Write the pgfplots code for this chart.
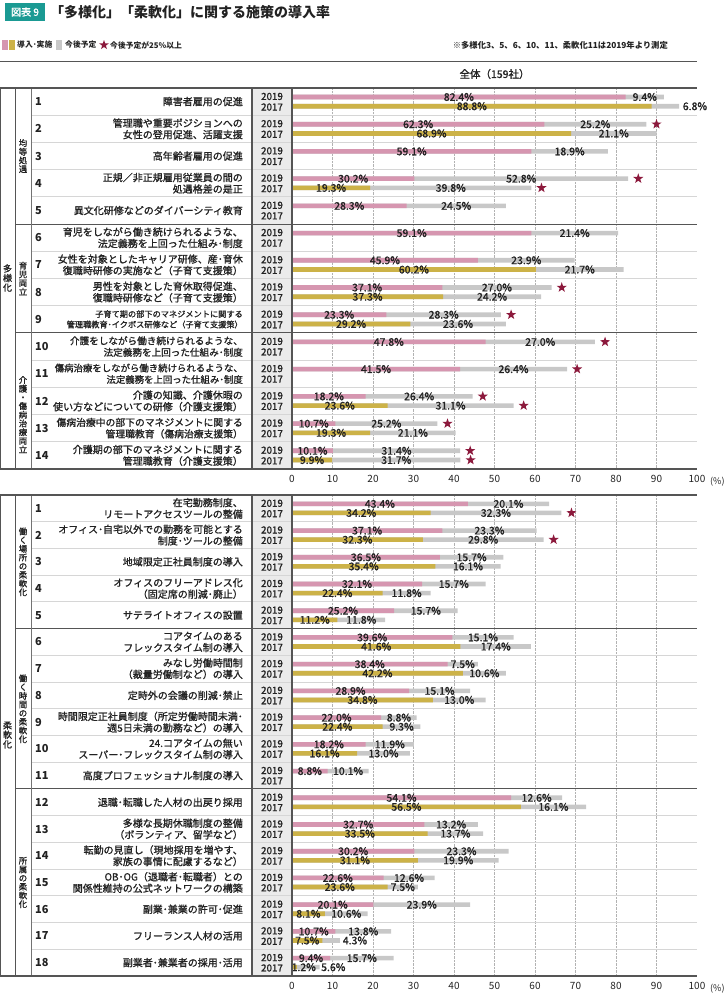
\documentclass[border=0pt]{standalone}
\usepackage{fontspec}
\setmainfont{Noto Sans CJK JP}
\newfontfamily\med{Noto Sans CJK JP}[FakeBold=1.2]
\usepackage{pgfplots}
\pgfplotsset{compat=1.18}
\usepackage{pgfplotstable}
\usetikzlibrary{shapes.geometric}

\definecolor{cpink}{HTML}{D696B0}
\definecolor{cgold}{HTML}{CCB248}
\definecolor{cgray}{HTML}{C8C8C8}
\definecolor{cstar}{HTML}{8C193C}
\definecolor{cteal}{HTML}{1A9A93}
\definecolor{crule}{HTML}{555555}
\definecolor{csep}{HTML}{D6D6D6}
\definecolor{cyear}{HTML}{EBEBEB}
\definecolor{ctxt}{HTML}{222222}

\pgfdeclareplotmark{fstar}{%
 \pgfpathmoveto{\pgfpointpolar{90}{\pgfplotmarksize}}%
 \pgfpathlineto{\pgfpointpolar{126}{0.4\pgfplotmarksize}}%
 \pgfpathlineto{\pgfpointpolar{162}{\pgfplotmarksize}}%
 \pgfpathlineto{\pgfpointpolar{198}{0.4\pgfplotmarksize}}%
 \pgfpathlineto{\pgfpointpolar{234}{\pgfplotmarksize}}%
 \pgfpathlineto{\pgfpointpolar{270}{0.4\pgfplotmarksize}}%
 \pgfpathlineto{\pgfpointpolar{306}{\pgfplotmarksize}}%
 \pgfpathlineto{\pgfpointpolar{342}{0.4\pgfplotmarksize}}%
 \pgfpathlineto{\pgfpointpolar{18}{\pgfplotmarksize}}%
 \pgfpathlineto{\pgfpointpolar{54}{0.4\pgfplotmarksize}}%
 \pgfpathclose\pgfusepathqfill}

% y: row position, a: 導入・実施, b: 今後予定, oa/ob: label offsets
\pgfplotstableread{
y a b oa ob
0.33 82.4 9.4 0 0
1.33 62.3 25.2 0 0
2.33 59.1 18.9 0 0
3.33 30.2 52.8 0 0
4.33 28.3 24.5 0 0
5.33 59.1 21.4 0 0
6.33 45.9 23.9 0 0
7.33 37.1 27.0 0 0
8.33 23.3 28.3 0 0
9.33 47.8 27.0 0 0
10.33 41.5 26.4 0 0
11.33 18.2 26.4 0 0
12.33 10.7 25.2 0 0
13.33 10.1 31.4 0 0
}\TopA
\pgfplotstableread{
y a b oa ob
0.67 88.8 6.8 0 7.3
1.67 68.9 21.1 0 0
3.67 19.3 39.8 0 0
6.67 60.2 21.7 0 0
7.67 37.3 24.2 0 0
8.67 29.2 23.6 0 0
11.67 23.6 31.1 0 0
12.67 19.3 21.1 0 0
13.67 9.9 31.7 0 0
}\TopB
\pgfplotstableread{
y a b oa ob
0.33 43.4 20.1 0 0
1.33 37.1 23.3 0 0
2.33 36.5 15.7 0 0
3.33 32.1 15.7 0 0
4.33 25.2 15.7 0 0
5.33 39.6 15.1 0 0
6.33 38.4 7.5 0 0
7.33 28.9 15.1 0 0
8.33 22.0 8.8 0 0
9.33 18.2 11.9 0 0
10.33 8.8 10.1 0 0
11.33 54.1 12.6 0 0
12.33 32.7 13.2 0 0
13.33 30.2 23.3 0 0
14.33 22.6 12.6 0 0
15.33 20.1 23.9 0 0
16.33 10.7 13.8 0 0
17.33 9.4 15.7 0 0
}\BotA
\pgfplotstableread{
y a b oa ob
0.67 34.2 32.3 0 0
1.67 32.3 29.8 0 0
2.67 35.4 16.1 0 0
3.67 22.4 11.8 0 0
4.67 11.2 11.8 0 0
5.67 41.6 17.4 0 0
6.67 42.2 10.6 0 0
7.67 34.8 13.0 0 0
8.67 22.4 9.3 0 0
9.67 16.1 13.0 0 0
11.67 56.5 16.1 0 0
12.67 33.5 13.7 0 0
13.67 31.1 19.9 0 0
14.67 23.6 7.5 0 0
15.67 8.1 10.6 0 0
16.67 7.5 4.3 0 5.9
17.67 1.2 5.6 2.3 6.2
}\BotB

\pgfplotsset{
 panel/.style={
  anchor=north west, width=405pt, scale only axis,
  xmin=0, xmax=100, ymin=0, y dir=reverse,
  axis line style={draw=none}, ytick=\empty,
  xtick={10,20,...,90}, extra x ticks={0,100},
  extra x tick style={grid=none},
  xmajorgrids, grid style={densely dotted, black!30, line width=0.5pt},
  major tick length=0pt,
  xticklabel style={font=\fontsize{10}{10}\selectfont, text=ctxt, yshift=-3pt},
  /pgf/number format/assume math mode=true,
  clip=false,
 },
 barA/.style={xbar, bar width=4.6pt, bar shift=0pt, draw=none},
 lbl/.style={draw=none, mark=none, nodes near coords, point meta=explicit,
  every node near coord/.style={anchor=center, inner sep=0pt, text=ctxt,
   font=\med\fontsize{10.5}{10.5}\selectfont},
  nodes near coords={\pgfmathprintnumber[fixed,fixed zerofill,precision=1]{\pgfplotspointmeta}\%}},
 stars/.style={only marks, mark=fstar, mark size=5.3pt, color=cstar},
}

\newcommand{\panelplots}[2]{%
 \addplot[barA, fill=cgray] table[x expr=\thisrow{a}+\thisrow{b}, y=y]{#1};
 \addplot[barA, fill=cpink] table[x=a, y=y]{#1};
 \addplot[barA, fill=cgray] table[x expr=\thisrow{a}+\thisrow{b}, y=y]{#2};
 \addplot[barA, fill=cgold] table[x=a, y=y]{#2};
 \addplot[lbl] table[x expr=\thisrow{a}/2+\thisrow{oa}, y=y, meta=a]{#1};
 \addplot[lbl] table[x expr=\thisrow{a}+\thisrow{b}/2+\thisrow{ob}, y=y, meta=b]{#1};
 \addplot[lbl] table[x expr=\thisrow{a}/2+\thisrow{oa}, y=y, meta=a]{#2};
 \addplot[lbl] table[x expr=\thisrow{a}+\thisrow{b}/2+\thisrow{ob}, y=y, meta=b]{#2};
 \addplot[stars] table[x expr=\thisrow{a}+\thisrow{b}+2.5, y=y, restrict expr to domain={\thisrow{b}}{25:1000}]{#1};
 \addplot[stars] table[x expr=\thisrow{a}+\thisrow{b}+2.5, y=y, restrict expr to domain={\thisrow{b}}{25:1000}]{#2};
}

\newcommand{\yearfont}{\med\fontsize{9.8}{9.8}\selectfont}
% \itm{top}{h}{index}{size}{skip}{label}
\newcommand{\itm}[6]{%
 \pgfmathsetmacro\yc{#1+#2*(#3-0.5)}%
 \pgfmathsetmacro\ya{\yc-0.19*#2}%
 \pgfmathsetmacro\yb{\yc+0.2*#2}%
 \node[anchor=west, inner sep=0pt, text=ctxt, font=\bfseries\fontsize{11}{11}\selectfont] at (35,\yc) {#3};%
 \node[anchor=east, align=right, inner sep=0pt, text=ctxt, font=\med\fontsize{#4}{#5}\selectfont] at (243,\yc) {#6};%
 \node[font=\yearfont, inner sep=0pt, text=ctxt] at (272,\ya) {2019};%
 \node[font=\yearfont, inner sep=0pt, text=ctxt] at (272,\yb) {2017};%
}
\newcommand{\vtxt}[3]{\node[align=center, inner sep=0pt, text=ctxt, font=\med\fontsize{8.4}{8.7}\selectfont] at (#1,#2) {#3};}

\begin{document}
\begin{tikzpicture}
\useasboundingbox (0,0) rectangle (728pt,-999pt);
\begin{scope}[x=1pt,y=-1pt]
 \fill[cteal] (5,3) rectangle (45,21);
 \node[text=white, font=\med\fontsize{10}{10}\selectfont] at (25,12) {図表 9};
 \node[anchor=west, inner sep=0pt, text=ctxt, font=\bfseries\fontsize{14}{14}\selectfont] at (50,12) {「多様化」「柔軟化」に関する施策の導入率};
 \fill[cpink] (2,40) rectangle (8,50);
 \fill[cgold] (9,40) rectangle (15,50);
 \node[anchor=west, inner sep=0pt, text=ctxt, font=\bfseries\fontsize{7.8}{7.8}\selectfont] at (17,45) {導入･実施};
 \fill[cgray] (56,40) rectangle (62,50);
 \node[anchor=west, inner sep=0pt, text=ctxt, font=\bfseries\fontsize{7.8}{7.8}\selectfont] at (65,45) {今後予定};
 \node[star, star points=5, star point ratio=2.5, fill=cstar, inner sep=0pt, minimum size=10pt] at (104,45) {};
 \node[anchor=west, inner sep=0pt, text=ctxt, font=\bfseries\fontsize{7.8}{7.8}\selectfont] at (110,45) {今後予定が25\%以上};
 \node[anchor=east, inner sep=0pt, text=ctxt, font=\bfseries\fontsize{8.3}{8.3}\selectfont] at (668,45) {※多様化3、5、6、10、11、柔軟化11は2019年より測定};
 \draw[crule, line width=1pt] (0,61) -- (697,61);
 \node[text=ctxt, font=\med\fontsize{10.5}{10.5}\selectfont] at (494.5,74) {全体（159社）};
 \fill[cyear] (252,88) rectangle (292,469);
 \fill[cyear] (252,495) rectangle (292,976);
\end{scope}

\begin{axis}[panel, at={(292pt,-88pt)}, height=381pt, ymax=14]
\panelplots{\TopA}{\TopB}
\end{axis}
\begin{axis}[panel, at={(292pt,-495pt)}, height=481pt, ymax=18]
\panelplots{\BotA}{\BotB}
\end{axis}

\begin{scope}[x=1pt,y=-1pt]
 % top panel lines
 \foreach \k in {1,2,3,4,6,7,8,10,11,12,13} \draw[csep, line width=0.8pt] (31,{88+27.214*\k}) -- (697,{88+27.214*\k});
 \foreach \k in {5,9} \draw[crule, line width=1pt] (15,{88+27.214*\k}) -- (697,{88+27.214*\k});
 \draw[crule, line width=0.8pt] (0.5,88) -- (0.5,469);
 \draw[crule, line width=0.6pt] (15,88) -- (15,469);
 \draw[black!55, line width=1pt] (31,88) -- (31,469);
 \draw[crule, line width=1.2pt] (252,88) -- (252,469);
 \draw[crule, line width=1.5pt] (292,88) -- (292,469);
 \draw[crule, line width=1.3pt] (0,88) -- (697,88);
 \draw[crule, line width=1.3pt] (0,469) -- (697,469);
 % bottom panel lines
 \foreach \k in {1,2,3,4,6,7,8,9,10,12,13,14,15,16,17} \draw[csep, line width=0.8pt] (31,{495+26.722*\k}) -- (697,{495+26.722*\k});
 \foreach \k in {5,11} \draw[crule, line width=1pt] (15,{495+26.722*\k}) -- (697,{495+26.722*\k});
 \draw[crule, line width=0.8pt] (0.5,495) -- (0.5,976);
 \draw[crule, line width=0.6pt] (15,495) -- (15,976);
 \draw[black!55, line width=1pt] (31,495) -- (31,976);
 \draw[crule, line width=1.2pt] (252,495) -- (252,976);
 \draw[crule, line width=1.5pt] (292,495) -- (292,976);
 \draw[crule, line width=1.3pt] (0,495) -- (697,495);
 \draw[crule, line width=1.3pt] (0,976) -- (697,976);
 \node[anchor=west, inner sep=0pt, text=ctxt, font=\fontsize{9}{9}\selectfont] at (710,481.5) {(\%)};
 \node[anchor=west, inner sep=0pt, text=ctxt, font=\fontsize{9}{9}\selectfont] at (710,988.5) {(\%)};
 % group labels
 \node[align=center, inner sep=0pt, text=ctxt, font=\med\fontsize{9}{9.5}\selectfont] at (7.5,278) {多\\様\\化};
 \node[align=center, inner sep=0pt, text=ctxt, font=\med\fontsize{9}{9.5}\selectfont] at (7.5,735) {柔\\軟\\化};
 \vtxt{23}{{88+27.214*2.5}}{均\\等\\処\\遇}
 \vtxt{23}{{88+27.214*7}}{育\\児\\両\\立}
 \vtxt{23}{{88+27.214*12}}{介\\護\\・\\傷\\病\\治\\療\\両\\立}
 \vtxt{23}{{495+26.722*2.5}}{働\\く\\場\\所\\の\\柔\\軟\\化}
 \vtxt{23}{{495+26.722*8}}{働\\く\\時\\間\\の\\柔\\軟\\化}
 \vtxt{23}{{495+26.722*14.5}}{所\\属\\の\\柔\\軟\\化}
 % top items
 \itm{88}{27.214}{1}{10}{11.5}{障害者雇用の促進}
 \itm{88}{27.214}{2}{10}{11.5}{管理職や重要ポジションへの\\女性の登用促進、活躍支援}
 \itm{88}{27.214}{3}{10}{11.5}{高年齢者雇用の促進}
 \itm{88}{27.214}{4}{10}{11.5}{正規／非正規雇用従業員の間の\\処遇格差の是正}
 \itm{88}{27.214}{5}{10}{11.5}{異文化研修などのダイバーシティ教育}
 \itm{88}{27.214}{6}{10}{11.5}{育児をしながら働き続けられるような、\\法定義務を上回った仕組み･制度}
 \itm{88}{27.214}{7}{10}{11.5}{女性を対象としたキャリア研修、産･育休\\復職時研修の実施など（子育て支援策）}
 \itm{88}{27.214}{8}{10}{11.5}{男性を対象とした育休取得促進、\\復職時研修など（子育て支援策）}
 \itm{88}{27.214}{9}{8.2}{10.5}{子育て期の部下のマネジメントに関する\\管理職教育･イクボス研修など（子育て支援策）}
 \itm{88}{27.214}{10}{9.6}{11.5}{介護をしながら働き続けられるような、\\法定義務を上回った仕組み･制度}
 \itm{88}{27.214}{11}{9.4}{11.5}{傷病治療をしながら働き続けられるような、\\法定義務を上回った仕組み･制度}
 \itm{88}{27.214}{12}{10}{11.5}{介護の知識、介護休暇の\\使い方などについての研修（介護支援策）}
 \itm{88}{27.214}{13}{9.8}{11.5}{傷病治療中の部下のマネジメントに関する\\管理職教育（傷病治療支援策）}
 \itm{88}{27.214}{14}{10}{11.5}{介護期の部下のマネジメントに関する\\管理職教育（介護支援策）}
 % bottom items
 \itm{495}{26.722}{1}{10}{11.5}{在宅勤務制度、\\リモートアクセスツールの整備}
 \itm{495}{26.722}{2}{10}{11.5}{オフィス･自宅以外での勤務を可能とする\\制度･ツールの整備}
 \itm{495}{26.722}{3}{10}{11.5}{地域限定正社員制度の導入}
 \itm{495}{26.722}{4}{10}{11.5}{オフィスのフリーアドレス化\\（固定席の削減･廃止）}
 \itm{495}{26.722}{5}{10}{11.5}{サテライトオフィスの設置}
 \itm{495}{26.722}{6}{10}{11.5}{コアタイムのある\\フレックスタイム制の導入}
 \itm{495}{26.722}{7}{10}{11.5}{みなし労働時間制\\（裁量労働制など）の導入}
 \itm{495}{26.722}{8}{10}{11.5}{定時外の会議の削減･禁止}
 \itm{495}{26.722}{9}{10}{11.5}{時間限定正社員制度（所定労働時間未満･\\週5日未満の勤務など）の導入}
 \itm{495}{26.722}{10}{10}{11.5}{24.コアタイムの無い\\スーパー･フレックスタイム制の導入}
 \itm{495}{26.722}{11}{10}{11.5}{高度プロフェッショナル制度の導入}
 \itm{495}{26.722}{12}{10}{11.5}{退職･転職した人材の出戻り採用}
 \itm{495}{26.722}{13}{10}{11.5}{多様な長期休職制度の整備\\（ボランティア、留学など）}
 \itm{495}{26.722}{14}{10}{11.5}{転勤の見直し（現地採用を増やす、\\家族の事情に配慮するなど）}
 \itm{495}{26.722}{15}{10}{11.5}{OB･OG（退職者･転職者）との\\関係性維持の公式ネットワークの構築}
 \itm{495}{26.722}{16}{10}{11.5}{副業･兼業の許可･促進}
 \itm{495}{26.722}{17}{10}{11.5}{フリーランス人材の活用}
 \itm{495}{26.722}{18}{10}{11.5}{副業者･兼業者の採用･活用}
\end{scope}
\end{tikzpicture}
\end{document}
